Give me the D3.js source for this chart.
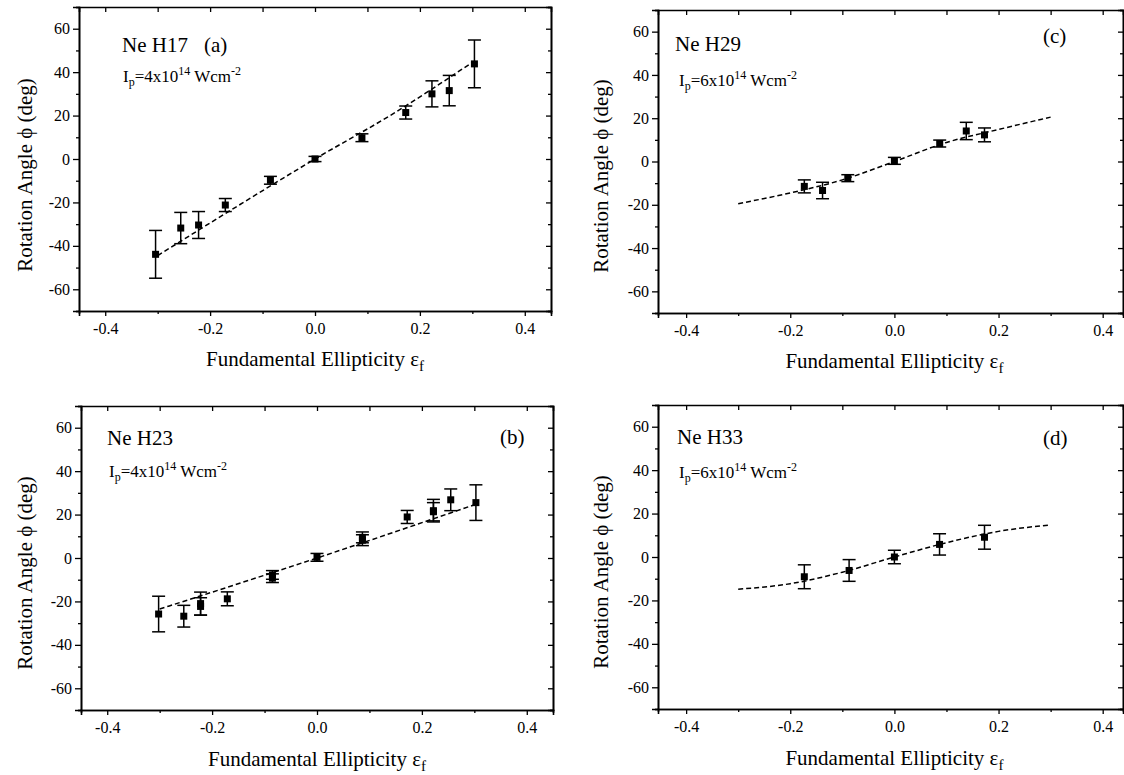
<!DOCTYPE html>
<html>
<head>
<meta charset="utf-8">
<title>Rotation angle vs fundamental ellipticity</title>
<script src="https://d3js.org/d3.v7.min.js"></script>
<style>
  body { margin: 0; background: #fff; }
  svg { display: block; }
  .domain, .tick line { stroke: #000; }
</style>
</head>
<body>
<script>
// ---- data ----
// (a) Ne H17
var xA = [-0.304, -0.256, -0.222, -0.171, -0.085, 0, 0.0895, 0.173, 0.223, 0.256, 0.304];
var yA = [-43.9, -31.8, -30.4, -21.2, -9.8, 0, 9.8, 21.4, 30, 31.5, 43.8];
var eA = [11, 7.2, 6.2, 3, 1.8, 1.2, 1.8, 3, 6, 7, 11];
var fitXA = [-0.3, -0.15, 0, 0.15, 0.3];
var fitYA = [-44.5, -22, 0, 21, 44.5];

// (b) Ne H23
var xB = [-0.302, -0.254, -0.222, -0.222, -0.171, -0.085, -0.085, 0, 0.0866, 0.0866, 0.172, 0.222, 0.222, 0.255, 0.303];
var yB = [-25.8, -26.8, -21, -22.3, -18.8, -7.8, -9.3, 0.3, 8.2, 9.5, 18.9, 21.8, 21.3, 26.8, 25.5];
var eB = [8.2, 5, 5.3, 4, 3.2, 2, 2, 1.8, 2.5, 2.5, 3, 5.2, 4.2, 5, 8.2];
var fitXB = [-0.3, 0, 0.3];
var fitYB = [-23.5, 0, 24.5];

// (c) Ne H29
var xC = [-0.173, -0.138, -0.0895, 0, 0.087, 0.138, 0.173];
var yC = [-11.5, -13.4, -7.7, 0.3, 8.3, 14.1, 12.3];
var eC = [3, 3.8, 1.6, 1.6, 1.6, 4, 3.2];
var fitXC = [-0.3, -0.2, -0.1, 0, 0.1, 0.2, 0.3];
var fitYC = [-19.5, -14.5, -8.5, 0, 8.8, 14.8, 20.5];

// (d) Ne H33
var xD = [-0.173, -0.087, 0, 0.0867, 0.173];
var yD = [-9.1, -6.2, 0, 5.8, 9.1];
var eD = [5.5, 5, 3.1, 4.9, 5.5];
var fitXD = [-0.3, -0.2, -0.1, 0, 0.1, 0.2, 0.3];
var fitYD = [-14.8, -12.3, -7, 0, 6.6, 11.8, 14.8];

var yMajor = [-60, -40, -20, 0, 20, 40, 60];
var yMinor = [-70, -50, -30, -10, 10, 30, 50, 70];
var xMajor = [-0.4, -0.2, 0, 0.2, 0.4];
var xMinor = [-0.3, -0.1, 0.1, 0.3];

var serif = "'Liberation Serif', 'DejaVu Serif', serif";
var w = 1124, h = 775;
var svg = d3.select("body").append("svg").attr("width", w).attr("height", h);

// panel frames (pixels) and content
var panels = [
  { xs: xA, ys: yA, es: eA, fx: fitXA, fy: fitYA, left: 79, right: 551, top: 7, bottom: 311,
    xdom: [-0.45, 0.45], title: "Ne H17", tag: "(a)", tagX: 204, tagY: 52, titleX: 122, titleY: 52,
    ip: "4", ipX: 123, ipY: 82, ylabX: 32, ylabY: 175, xlabY: 366 },
  { xs: xC, ys: yC, es: eC, fx: fitXC, fy: fitYC, left: 658, right: 1123, top: 10, bottom: 313,
    xdom: [-0.454, 0.439], title: "Ne H29", tag: "(c)", tagX: 1043, tagY: 43, titleX: 675, titleY: 51,
    ip: "6", ipX: 679, ipY: 86, ylabX: 608, ylabY: 176, xlabY: 368 },
  { xs: xB, ys: yB, es: eB, fx: fitXB, fy: fitYB, left: 81, right: 553, top: 406, bottom: 710,
    xdom: [-0.45, 0.45], title: "Ne H23", tag: "(b)", tagX: 500, tagY: 444, titleX: 107, titleY: 445,
    ip: "4", ipX: 109, ipY: 477, ylabX: 32, ylabY: 573, xlabY: 766 },
  { xs: xD, ys: yD, es: eD, fx: fitXD, fy: fitYD, left: 658, right: 1123, top: 405, bottom: 709,
    xdom: [-0.454, 0.439], title: "Ne H33", tag: "(d)", tagX: 1043, tagY: 445, titleX: 677, titleY: 444,
    ip: "6", ipX: 679, ipY: 478, ylabX: 608, ylabY: 572, xlabY: 765 }
];

panels.forEach(function(p) {
  var x = d3.scaleLinear().domain(p.xdom).range([p.left, p.right]);
  var y = d3.scaleLinear().domain([-70, 70]).range([p.bottom, p.top]);
  var g = svg.append("g");

  // axes: left (outward), right (inward), bottom (outward), top (inward)
  g.append("g").attr("transform", "translate(" + p.left + ",0)")
    .call(d3.axisLeft(y).tickValues(yMajor).tickSize(6).tickPadding(3).tickFormat(function(d) { return String(d); }));
  g.append("g").attr("transform", "translate(" + p.left + ",0)")
    .call(d3.axisLeft(y).tickValues(yMinor).tickSize(3).tickFormat(""));
  g.append("g").attr("transform", "translate(" + p.right + ",0)")
    .call(d3.axisRight(y).tickValues(yMajor).tickSize(-5).tickFormat(""));
  g.append("g").attr("transform", "translate(" + p.right + ",0)")
    .call(d3.axisRight(y).tickValues(yMinor).tickSize(-3).tickFormat(""));
  g.append("g").attr("transform", "translate(0," + p.bottom + ")")
    .call(d3.axisBottom(x).tickValues(xMajor).tickSize(5).tickPadding(7).tickFormat(function(d) { return d.toFixed(1); }));
  g.append("g").attr("transform", "translate(0," + p.bottom + ")")
    .call(d3.axisBottom(x).tickValues(xMinor).tickSize(3).tickFormat(""));
  g.append("g").attr("transform", "translate(0," + p.top + ")")
    .call(d3.axisTop(x).tickValues(xMajor.concat(xMinor)).tickSize(-5).tickFormat(""));

  g.selectAll(".domain").attr("stroke-width", 1.6);
  g.selectAll(".tick line").attr("stroke-width", 1.3);
  g.selectAll(".tick text").style("font-size", "16px");

  // dashed theory curve
  var fit = p.fx.map(function(v, i) { return [v, p.fy[i]]; });
  g.append("path")
    .datum(fit)
    .attr("fill", "none")
    .attr("stroke", "#000")
    .attr("stroke-width", 1.5)
    .attr("stroke-dasharray", "5,3")
    .attr("d", d3.line().x(function(d) { return x(d[0]); }).y(function(d) { return y(d[1]); }).curve(d3.curveMonotoneX));

  // error bars + square markers
  var pts = p.xs.map(function(v, i) { return { x: v, y: p.ys[i], e: p.es[i] }; });
  var bars = g.selectAll(".bar").data(pts).enter().append("g");
  bars.append("line")
    .attr("x1", function(d) { return x(d.x); }).attr("x2", function(d) { return x(d.x); })
    .attr("y1", function(d) { return y(d.y + d.e); }).attr("y2", function(d) { return y(d.y - d.e); })
    .attr("stroke", "#000").attr("stroke-width", 1.5);
  [1, -1].forEach(function(s) {
    bars.append("line")
      .attr("x1", function(d) { return x(d.x) - 6.5; }).attr("x2", function(d) { return x(d.x) + 6.5; })
      .attr("y1", function(d) { return y(d.y + s * d.e); }).attr("y2", function(d) { return y(d.y + s * d.e); })
      .attr("stroke", "#000").attr("stroke-width", 1.5);
  });
  bars.append("rect")
    .attr("x", function(d) { return x(d.x) - 3.5; }).attr("y", function(d) { return y(d.y) - 3.5; })
    .attr("width", 7).attr("height", 7).attr("fill", "#000");

  // panel annotations
  g.append("text").attr("x", p.titleX).attr("y", p.titleY).style("font-size", "21px").text(p.title);
  g.append("text").attr("x", p.tagX).attr("y", p.tagY).style("font-size", "21px").text(p.tag);

  var ip = g.append("text").attr("x", p.ipX).attr("y", p.ipY).style("font-size", "17px");
  ip.append("tspan").text("I");
  ip.append("tspan").attr("dy", 4).style("font-size", "12px").text("p");
  ip.append("tspan").attr("dy", -4).text("=" + p.ip + "x10");
  ip.append("tspan").attr("dy", -7).style("font-size", "12px").text("14");
  ip.append("tspan").attr("dy", 7).text(" Wcm");
  ip.append("tspan").attr("dy", -7).style("font-size", "12px").text("-2");

  // axis titles
  var xl = g.append("text").attr("x", x(0)).attr("y", p.xlabY)
    .attr("text-anchor", "middle").style("font-size", "21px");
  xl.append("tspan").text("Fundamental Ellipticity \u03b5");
  xl.append("tspan").attr("dy", 5).style("font-size", "15px").text("f");

  g.append("text")
    .attr("transform", "translate(" + p.ylabX + "," + p.ylabY + ") rotate(-90)")
    .attr("text-anchor", "middle").style("font-size", "21px")
    .text("Rotation Angle \u03d5 (deg)");
});

svg.selectAll("text").style("font-family", serif).attr("fill", "#000");
</script>
</body>
</html>
